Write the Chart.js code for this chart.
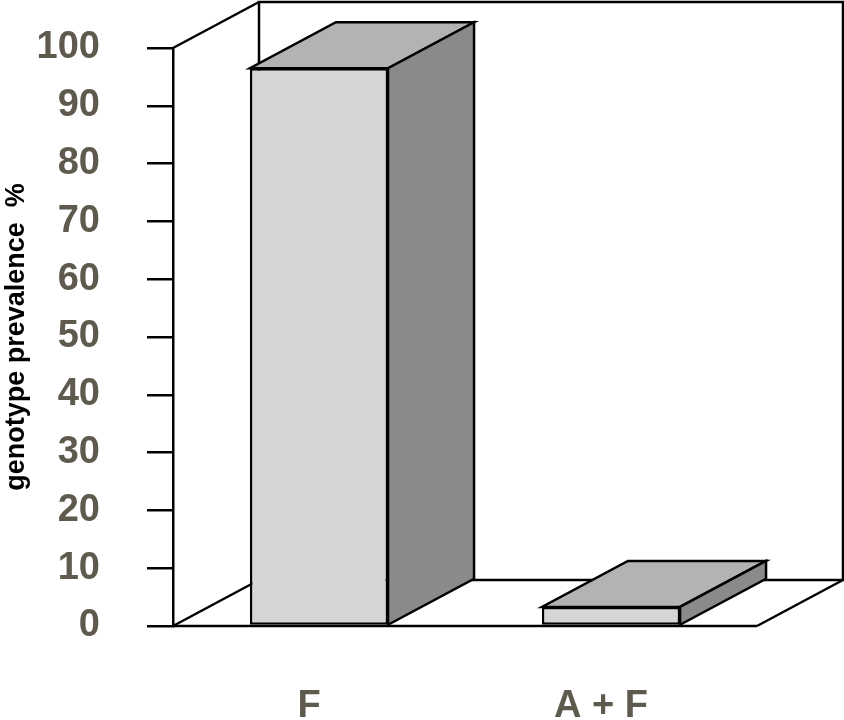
<!DOCTYPE html>
<html>
<head>
<meta charset="utf-8">
<script src="https://cdn.jsdelivr.net/npm/chart.js@4.4.1/dist/chart.umd.min.js"></script>
<style>
  body { margin: 0; background: #fff; }
  canvas { display: block; }
</style>
</head>
<body>
<canvas id="myChart" width="844" height="720"></canvas>
<script>
let categories = ["F", "A + F"];
let prevalence = [96.5, 3.3];
let yMin = 0;
let yMax = 100;
let yStep = 10;

// depth of the fake 3d box (pixels)
let depthX = 86;
let depthY = 46;
let edge = 2.5;

const fontFam = "'Liberation Sans', Arial, sans-serif";

function poly(ctx, pts, fill) {
    ctx.beginPath();
    ctx.moveTo(pts[0][0], pts[0][1]);
    for (let i = 1; i < pts.length; i++) ctx.lineTo(pts[i][0], pts[i][1]);
    ctx.closePath();
    if (fill) {
        ctx.fillStyle = fill;
        ctx.fill();
    }
    ctx.stroke();
}

function line(ctx, x1, y1, x2, y2) {
    ctx.beginPath();
    ctx.moveTo(x1, y1);
    ctx.lineTo(x2, y2);
    ctx.stroke();
}

const box3d = {
    id: "box3d",
    beforeDatasetsDraw(chart) {
        let ctx = chart.ctx;
        let a = chart.chartArea;
        ctx.save();
        ctx.strokeStyle = "#000";
        ctx.lineWidth = edge;
        ctx.lineJoin = "miter";
        // back wall
        poly(ctx, [
            [a.left + depthX, a.top - depthY],
            [a.right + depthX, a.top - depthY],
            [a.right + depthX, a.bottom - depthY],
            [a.left + depthX, a.bottom - depthY]
        ], "#fff");
        // side wall edges
        line(ctx, a.left, a.top, a.left + depthX, a.top - depthY);
        line(ctx, a.left, a.bottom, a.left + depthX, a.bottom - depthY);
        // floor front + right edge
        line(ctx, a.left, a.bottom, a.right, a.bottom);
        line(ctx, a.right, a.bottom, a.right + depthX, a.bottom - depthY);
        ctx.restore();
    },
    afterDatasetsDraw(chart) {
        let ctx = chart.ctx;
        ctx.save();
        ctx.strokeStyle = "#000";
        ctx.lineWidth = edge;
        ctx.lineJoin = "miter";
        chart.getDatasetMeta(0).data.forEach((bar) => {
            let p = bar.getProps(["x", "y", "base", "width"], true);
            let l = p.x - p.width / 2;
            let r = p.x + p.width / 2;
            // top
            poly(ctx, [[l, p.y], [r, p.y], [r + depthX, p.y - depthY], [l + depthX, p.y - depthY]], "#b3b3b3");
            // side
            poly(ctx, [[r, p.y], [r + depthX, p.y - depthY], [r + depthX, p.base - depthY], [r, p.base]], "#8a8a8a");
        });
        ctx.restore();
    }
};

const config = () => {
    new Chart(document.getElementById("myChart"), {
        type: "bar",
        data: {
            labels: categories,
            datasets: [{
                label: "genotype prevalence",
                data: prevalence,
                backgroundColor: "#d5d5d5",
                borderColor: "#000",
                borderWidth: edge,
                borderSkipped: false,
                barPercentage: 0.473,
                categoryPercentage: 1.0
            }]
        },
        options: {
            responsive: false,
            animation: false,
            layout: { padding: { top: 48, right: 87, left: 0, bottom: 0 } },
            plugins: {
                legend: { display: false },
                tooltip: { enabled: false }
            },
            scales: {
                x: {
                    grid: { display: false },
                    border: { display: false },
                    ticks: {
                        color: "#5e5a4e",
                        font: { family: fontFam, size: 38, weight: "bold" },
                        padding: 50,
                        labelOffset: -10,
                        maxRotation: 0
                    },
                    afterFit: (s) => { s.height = 94; }
                },
                y: {
                    min: yMin,
                    max: yMax,
                    grid: {
                        drawOnChartArea: false,
                        drawTicks: true,
                        tickLength: 26,
                        color: "#000",
                        lineWidth: edge
                    },
                    border: { display: true, color: "#000", width: edge },
                    ticks: {
                        stepSize: yStep,
                        color: "#5e5a4e",
                        font: { family: fontFam, size: 38, weight: "bold" },
                        padding: 47
                    },
                    title: {
                        display: true,
                        text: "genotype prevalence  %",
                        color: "#000",
                        font: { family: fontFam, size: 27, weight: "bold" },
                        padding: { top: 0, bottom: 0 }
                    },
                    afterFit: (s) => {
                        s.width = 173;
                        // tick padding would otherwise push the plot down
                        s.paddingTop = 0;
                        s.paddingBottom = 0;
                    }
                }
            }
        },
        plugins: [box3d]
    });
};

config();
</script>
</body>
</html>
